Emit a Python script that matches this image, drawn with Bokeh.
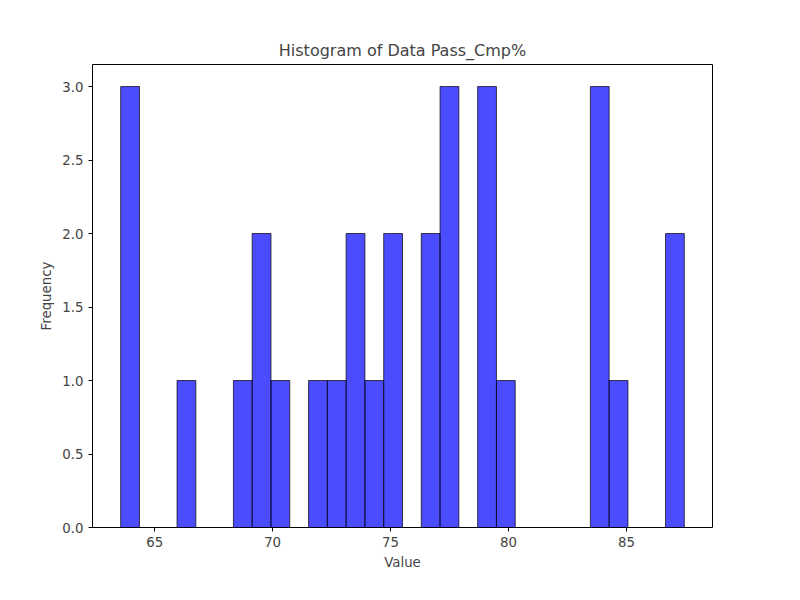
import numpy as np
from bokeh.plotting import figure
from bokeh.models import Range1d, FixedTicker, CustomJSTickFormatter
from bokeh.embed import file_html
from bokeh.resources import INLINE

counts = [3, 0, 0, 1, 0, 0, 1, 2, 1, 0, 1, 1, 2, 1, 2, 0, 2, 3, 0, 3, 1, 0, 0, 0, 0, 3, 1, 0, 0, 2]
data_min = 63.56
data_max = 87.45

edges = np.linspace(data_min, data_max, len(counts) + 1)
span = data_max - data_min

p = figure(width=784, height=584, output_backend="svg", toolbar_location=None,
           title="Histogram of Data Pass_Cmp%",
           x_range=Range1d(data_min - 0.05 * span, data_max + 0.05 * span),
           y_range=Range1d(0, 3.15),
           x_axis_label="Value", y_axis_label="Frequency",
           min_border_left=92, min_border_right=72, min_border_top=64, min_border_bottom=57)
p.quad(left=edges[:-1], right=edges[1:], bottom=0, top=counts,
       fill_color="blue", fill_alpha=0.7, line_color="black", line_alpha=0.7)

p.title.align = "center"
p.title.text_font = "DejaVu Sans"
p.title.text_font_style = "normal"
p.title.text_font_size = "12pt"
p.xgrid.grid_line_color = None
p.ygrid.grid_line_color = None
p.outline_line_color = "black"
p.xaxis.ticker = FixedTicker(ticks=[65, 70, 75, 80, 85])
p.yaxis.ticker = FixedTicker(ticks=[0, 0.5, 1, 1.5, 2, 2.5, 3])
p.yaxis.formatter = CustomJSTickFormatter(code="return tick.toFixed(1);")
for ax in (p.xaxis, p.yaxis):
    ax.minor_tick_line_color = None
    ax.major_tick_in = 0
    ax.major_tick_out = 4
    ax.major_label_text_font = "DejaVu Sans"
    ax.major_label_text_font_size = "10pt"
    ax.axis_label_text_font = "DejaVu Sans"
    ax.axis_label_text_font_style = "normal"
    ax.axis_label_text_font_size = "10pt"
    ax.axis_line_color = None

open("out.html", "w").write(file_html(p, INLINE))
